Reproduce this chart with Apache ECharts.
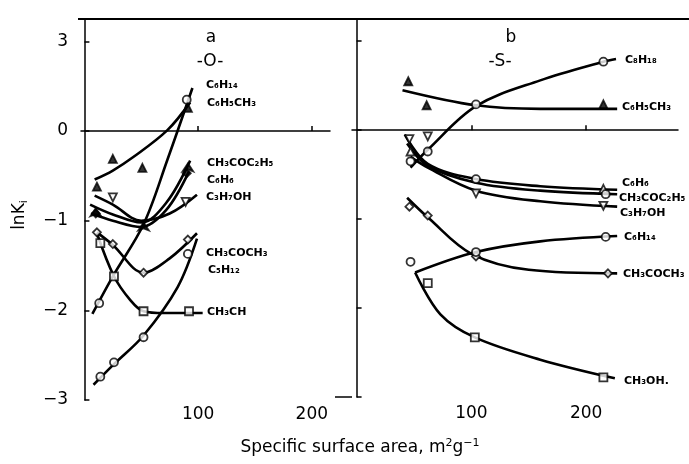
<!DOCTYPE html>
<html>
<head>
<meta charset="utf-8">
<script src="https://cdn.jsdelivr.net/npm/echarts@6/dist/echarts.min.js"></script>
<style>
  html, body { margin: 0; padding: 0; background: #fff; }
  #chart { width: 689px; height: 464px; }
</style>
</head>
<body>
<div id="chart"></div>
<script>
// tick labels
var yTickLabels = { '1': '3', '0': '0', '-1': '−1', '-2': '−2', '-3': '−3' };
var xTickValues = [100, 200];

// panel a (-O-): measured points and fitted curves, [surface area, lnK]
var oC6H14Pts = [[13, -1.92], [90, 0.35]];
var oC6H14Fit = [[7, -2.04], [25, -1.62], [52, -1.04], [73, -0.32], [95, 0.48]];
var oTolPts = [[11, -0.62], [25, -0.31], [51, -0.41], [91, 0.26]];
var oTolFit = [[9, -0.54], [25, -0.44], [43, -0.29], [73, 0.01], [93, 0.32]];
var oMekPts = [[10, -0.86], [52, -1.02], [91, -0.36]];
var oMekFit = [[5, -0.82], [25, -0.93], [50, -1.02], [72, -0.8], [93, -0.33]];
var oBenzPts = [[10, -0.92], [90, -0.47]];
var oBenzFit = [[6, -0.92], [25, -1.0], [50, -1.07], [72, -0.88], [92, -0.45]];
var oPropPts = [[25, -0.74], [89, -0.79]];
var oPropFit = [[9, -0.72], [25, -0.82], [50, -1.0], [75, -0.92], [99, -0.71]];
var oAcetPts = [[11, -1.13], [25, -1.26], [52, -1.58], [91, -1.21]];
var oAcetFit = [[11, -1.13], [25, -1.27], [52, -1.58], [75, -1.42], [99, -1.14]];
var oPentPts = [[14, -2.74], [26, -2.58], [52, -2.3], [91, -1.37]];
var oPentFit = [[8, -2.83], [26, -2.6], [52, -2.28], [82, -1.74], [99, -1.2]];
var oMethPts = [[14, -1.25], [26, -1.62], [52, -2.01], [92, -2.01]];
var oMethFit = [[11, -1.14], [26, -1.62], [40, -1.88], [52, -2.01], [70, -2.03], [104, -2.03]];

// panel b (-S-)
var sOctPts = [[62, -0.24], [104, 0.29], [215, 0.77]];
var sOctFit = [[47, -0.42], [62, -0.22], [104, 0.27], [160, 0.56], [215, 0.77], [226, 0.8]];
var sTolPts = [[45, 0.55], [61, 0.28], [215, 0.29]];
var sTolFit = [[40, 0.45], [104, 0.28], [160, 0.24], [227, 0.24]];
var sBenzPts = [[47, -0.24], [215, -0.66]];
var sBenzFit = [[42, -0.05], [62, -0.38], [104, -0.55], [160, -0.63], [227, -0.67]];
var sMekPts = [[47, -0.35], [104, -0.55], [217, -0.72]];
var sMekFit = [[44, -0.15], [62, -0.4], [104, -0.59], [160, -0.68], [227, -0.72]];
var sPropPts = [[46, -0.1], [62, -0.07], [104, -0.71], [215, -0.85]];
var sPropFit = [[47, -0.3], [62, -0.42], [104, -0.68], [160, -0.8], [227, -0.86]];
var sAcetPts = [[46, -0.86], [62, -0.96], [104, -1.42], [219, -1.61]];
var sAcetFit = [[44, -0.76], [62, -0.98], [100, -1.39], [150, -1.57], [227, -1.61]];
var sHexPts = [[47, -1.48], [104, -1.37], [217, -1.2]];
var sHexFit = [[51, -1.6], [104, -1.37], [160, -1.25], [227, -1.19]];
var sMethPts = [[62, -1.72], [103, -2.33], [215, -2.78]];
var sMethFit = [[51, -1.6], [73, -2.07], [103, -2.33], [160, -2.58], [225, -2.79]];

var myChart = echarts.init(document.getElementById('chart'));
var fontFam = 'DejaVu Sans';

function fit(data, g) {
  return {
    type: 'line', xAxisIndex: g, yAxisIndex: g, data: data,
    smooth: 0.35, symbol: 'none',
    lineStyle: { color: '#000', width: 2.6 }, z: 2
  };
}
function pts(data, g, symbol, filled, rotate) {
  return {
    type: 'scatter', xAxisIndex: g, yAxisIndex: g, data: data,
    symbol: symbol, symbolSize: 8, symbolRotate: rotate || 0,
    itemStyle: { color: filled ? '#000' : '#fff', borderColor: '#000', borderWidth: 1.8 }, z: 3
  };
}
function tag(text, x, y) {
  return {
    type: 'text', x: x, y: y,
    style: { text: text, font: 'bold 11px ' + fontFam, fill: '#000', textVerticalAlign: 'middle' }
  };
}
function plain(text, x, y, size) {
  return {
    type: 'text', x: x, y: y,
    style: { text: text, font: size + 'px ' + fontFam, fill: '#000', textAlign: 'center', textVerticalAlign: 'middle' }
  };
}

var axisLine = { lineStyle: { color: '#000', width: 1.5 } };

var option = {
  animation: false,
  backgroundColor: '#fff',
  grid: [
    { left: 81, top: 19, width: 249, height: 381 },
    { left: 352, top: 19, width: 326, height: 378 }
  ],
  xAxis: [
    {
      type: 'value', gridIndex: 0, min: -3, max: 216,
      axisLine: axisLine, splitLine: { show: false },
      axisTick: { inside: true, length: 5, customValues: xTickValues, lineStyle: { color: '#000', width: 1.5 } },
      axisLabel: { customValues: xTickValues, color: '#000', fontSize: 17, fontFamily: fontFam, margin: 6 }
    },
    {
      type: 'value', gridIndex: 1, min: -4, max: 280,
      axisLine: axisLine, splitLine: { show: false },
      axisTick: { inside: true, length: 5, customValues: xTickValues, lineStyle: { color: '#000', width: 1.5 } },
      axisLabel: { customValues: xTickValues, color: '#000', fontSize: 17, fontFamily: fontFam, margin: 8 }
    }
  ],
  yAxis: [
    {
      type: 'value', gridIndex: 0, min: -3, max: 1.25, interval: 1,
      axisLine: axisLine, splitLine: { show: false },
      axisTick: { inside: true, length: 5, lineStyle: { color: '#000', width: 1.5 } },
      axisLabel: {
        color: '#000', fontSize: 17, fontFamily: fontFam, margin: 13, showMaxLabel: false,
        formatter: function (v) { return yTickLabels[String(v)] || ''; }
      }
    },
    {
      type: 'value', gridIndex: 1, min: -3, max: 1.25, interval: 1,
      axisLine: axisLine, splitLine: { show: false },
      axisTick: { inside: true, length: 5, lineStyle: { color: '#000', width: 1.5 } },
      axisLabel: { show: false }
    }
  ],
  series: [
    fit(oC6H14Fit, 0), pts(oC6H14Pts, 0, 'circle', false),
    fit(oTolFit, 0), pts(oTolPts, 0, 'triangle', true),
    fit(oMekFit, 0), pts(oMekPts, 0, 'arrow', true),
    fit(oBenzFit, 0), pts(oBenzPts, 0, 'diamond', true),
    fit(oPropFit, 0), pts(oPropPts, 0, 'triangle', false, 180),
    fit(oAcetFit, 0), pts(oAcetPts, 0, 'diamond', false),
    fit(oPentFit, 0), pts(oPentPts, 0, 'circle', false),
    fit(oMethFit, 0), pts(oMethPts, 0, 'rect', false),

    fit(sOctFit, 1), pts(sOctPts, 1, 'circle', false),
    fit(sTolFit, 1), pts(sTolPts, 1, 'triangle', true),
    fit(sBenzFit, 1), pts(sBenzPts, 1, 'triangle', false),
    fit(sMekFit, 1), pts(sMekPts, 1, 'circle', false),
    fit(sPropFit, 1), pts(sPropPts, 1, 'triangle', false, 180),
    fit(sAcetFit, 1), pts(sAcetPts, 1, 'diamond', false),
    fit(sHexFit, 1), pts(sHexPts, 1, 'circle', false),
    fit(sMethFit, 1), pts(sMethPts, 1, 'rect', false)
  ],
  graphic: [
    { type: 'line', shape: { x1: 78, y1: 19, x2: 689, y2: 19 }, style: { stroke: '#000', lineWidth: 2 } },
    { type: 'line', shape: { x1: 335, y1: 397, x2: 352, y2: 397 }, style: { stroke: '#000', lineWidth: 1.5 } },
    plain('a', 211, 38, 17),
    plain('-O-', 210, 62, 17),
    plain('b', 511, 38, 17),
    plain('-S-', 500, 62, 17),
    {
      type: 'text', x: 20, y: 215, rotation: Math.PI / 2,
      style: {
        text: 'lnK{sub|i}', font: '17px ' + fontFam, fill: '#000', textAlign: 'center', textVerticalAlign: 'middle',
        rich: { sub: { fontSize: 11, fontFamily: fontFam, padding: [8, 0, 0, 0] } }
      }
    },
    {
      type: 'text', x: 360, y: 448,
      style: {
        text: 'Specific surface area, m{sup|2}g{sup|−1}', font: '17px ' + fontFam, fill: '#000',
        textAlign: 'center', textVerticalAlign: 'middle',
        rich: { sup: { fontSize: 11, fontFamily: fontFam, padding: [0, 0, 10, 0] } }
      }
    },
    tag('C₆H₁₄', 206, 85),
    tag('C₆H₅CH₃', 207, 103),
    tag('CH₃COC₂H₅', 207, 163),
    tag('C₆H₆', 207, 180),
    tag('C₃H₇OH', 206, 197),
    tag('CH₃COCH₃', 206, 253),
    tag('C₅H₁₂', 208, 270),
    tag('CH₃CH', 207, 312),
    tag('C₈H₁₈', 625, 60),
    tag('C₆H₅CH₃', 622, 107),
    tag('C₆H₆', 622, 183),
    tag('CH₃COC₂H₅', 619, 198),
    tag('C₃H₇OH', 620, 213),
    tag('C₆H₁₄', 624, 237),
    tag('CH₃COCH₃', 623, 274),
    tag('CH₃OH.', 624, 381)
  ]
};

myChart.clear();
myChart.resize();
myChart.setOption(option);
</script>
</body>
</html>
